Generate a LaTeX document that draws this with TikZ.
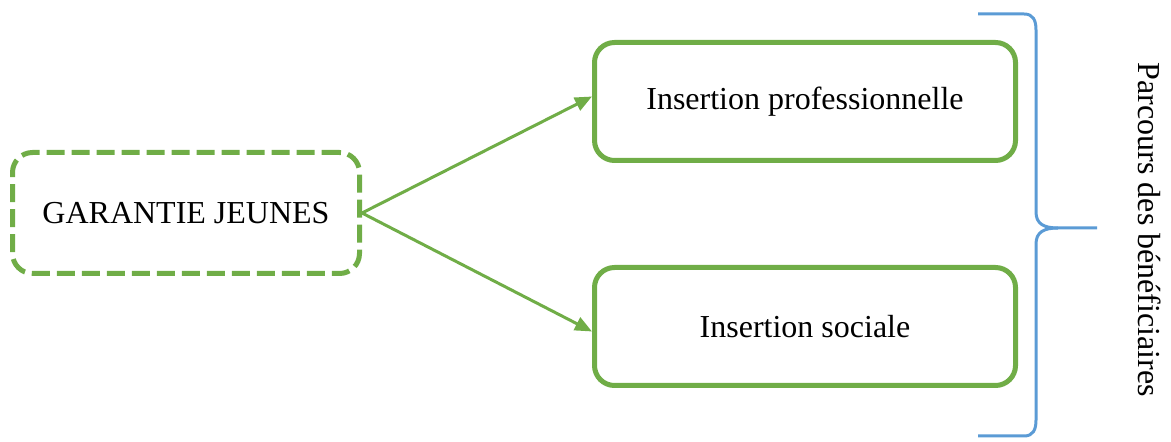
\documentclass[tikz,border=0pt]{standalone}
\usepackage{fontspec}
\setmainfont{Liberation Serif}
\usetikzlibrary{positioning}
\usetikzlibrary{arrows.meta}
\definecolor{vert}{HTML}{70AD47}
\definecolor{bleu}{HTML}{5B9BD5}

\begin{document}
\begin{tikzpicture}[x=0.5pt,y=-0.5pt,
	boite/.style={rectangle, rounded corners=10pt, draw=vert, line width=2.5pt, font=\fontsize{16}{19}\selectfont, inner sep=0pt},
	fleche/.style={draw=vert, line width=1.5pt, -{Triangle[length=8.5pt,width=7pt]}}]
	\useasboundingbox (0,0) rectangle (1171,442);
	\node[boite, dash pattern=on 9pt off 3.5pt, minimum width=173.5pt, minimum height=60.5pt] (garantie) at (186,213) {GARANTIE JEUNES};
	\node[boite, minimum width=210.5pt, minimum height=59pt] (pro) at (805,101.5) {Insertion professionnelle};
	\node[boite, minimum width=210.5pt, minimum height=59pt] (sociale) at (805,326.5) {Insertion sociale};
	\draw[fleche] (garantie.east) -- ([yshift=2.5pt]pro.west);
	\draw[fleche] (garantie.east) -- ([yshift=-2.5pt]sociale.west);
	% accolade
	\coordinate (haut) at (978,14);
	\coordinate (bas) at (978,436);
	\coordinate (pointe) at (1097,228);
	\draw[bleu, line width=1.5pt] (haut) -- (1024,14) .. controls (1033,14) and (1036,20) .. (1036,30) -- (1036,212) .. controls (1036,224) and (1044,228) .. (1058,228) -- (pointe);
	\draw[bleu, line width=1.5pt] (1058,228) .. controls (1044,228) and (1036,232) .. (1036,244) -- (1036,420) .. controls (1036,430) and (1033,436) .. (1024,436) -- (bas);
	\node[rotate=-90, font=\fontsize{16}{19}\selectfont] (parcours) at (1150,230) {Parcours des bénéficiaires};
\end{tikzpicture}
\end{document}
